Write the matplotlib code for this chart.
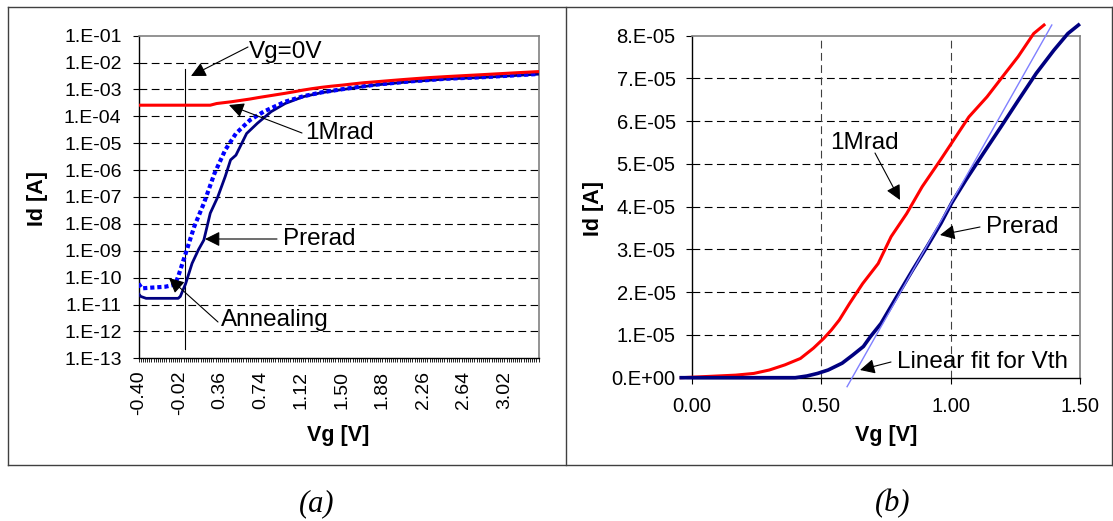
import matplotlib
matplotlib.use("Agg")
import matplotlib.pyplot as plt
from matplotlib.lines import Line2D
from matplotlib.patches import FancyArrowPatch

plt.rcParams['font.family'] = ['Liberation Sans', 'DejaVu Sans']

W, H = 1113, 521

# ---- (a) Id-Vg, log scale ----
vg_1mrad_a = [-0.40, 0.27, 0.33, 0.47, 0.55, 0.64, 0.72, 0.81, 0.90, 0.97, 1.06, 1.14, 1.22,
              1.31, 1.40, 1.51, 1.61, 1.71, 1.83, 1.94, 2.05, 2.17, 2.31, 2.47, 2.63,
              2.81, 2.97, 3.14, 3.33]
id_1mrad_a = [2.6e-4, 2.6e-4, 3.0e-4, 3.5e-4, 3.9e-4, 4.4e-4, 5.0e-4, 5.7e-4, 6.5e-4, 7.2e-4,
              8.3e-4, 9.5e-4, 1.07e-3, 1.2e-3, 1.32e-3, 1.46e-3, 1.62e-3, 1.79e-3, 1.95e-3,
              2.12e-3, 2.3e-3, 2.5e-3, 2.75e-3, 3.0e-3, 3.25e-3, 3.55e-3, 3.85e-3, 4.2e-3, 4.6e-3]

vg_prerad_a = [-0.40, -0.38, -0.33, -0.03, -0.01, 0.04, 0.10, 0.16, 0.21, 0.27, 0.34, 0.41,
               0.46, 0.51, 0.61, 0.71, 0.84, 0.97, 1.14, 1.31, 1.51, 1.81, 2.14, 2.47, 2.81, 3.33]
id_prerad_a = [2.5e-11, 2.0e-11, 1.7e-11, 1.7e-11, 2.0e-11, 6e-11, 3.4e-10, 1.1e-9, 2.5e-9,
               2.5e-8, 1.0e-7, 5.8e-7, 2.4e-6, 3.6e-6, 2.3e-5, 5.5e-5, 1.5e-4, 3.0e-4, 5.4e-4,
               7.6e-4, 1.0e-3, 1.46e-3, 1.95e-3, 2.45e-3, 2.8e-3, 3.7e-3]

vg_anneal_a = [-0.40, -0.37, -0.30, -0.15, -0.06, -0.03, 0.01, 0.06, 0.12, 0.21, 0.31, 0.41,
               0.51, 0.64, 0.77, 0.97, 1.14, 1.31, 1.51, 1.81, 2.14, 2.47, 2.81, 3.33]
id_anneal_a = [6e-11, 4e-11, 4.2e-11, 4.6e-11, 5.5e-11, 1.1e-10, 3.4e-10, 1.4e-9, 7.9e-9,
               5.8e-8, 7.6e-7, 5.6e-6, 2.3e-5, 7.2e-5, 1.5e-4, 3.5e-4, 5.6e-4, 7.8e-4, 1.03e-3,
               1.5e-3, 2.0e-3, 2.5e-3, 2.85e-3, 3.75e-3]

vg_ticks_a = [-0.40, -0.02, 0.36, 0.74, 1.12, 1.50, 1.88, 2.26, 2.64, 3.02]
id_ticks_a = [1e-13, 1e-12, 1e-11, 1e-10, 1e-9, 1e-8, 1e-7, 1e-6, 1e-5, 1e-4, 1e-3, 1e-2, 1e-1]
id_labels_a = ["1.E-13", "1.E-12", "1.E-11", "1.E-10", "1.E-09", "1.E-08", "1.E-07",
               "1.E-06", "1.E-05", "1.E-04", "1.E-03", "1.E-02", "1.E-01"]
vg_zero = 0.03

# ---- (b) Id-Vg, linear scale ----
vg_1mrad_b = [-0.04, 0.17, 0.24, 0.30, 0.36, 0.42, 0.47, 0.51, 0.54, 0.57, 0.61, 0.66, 0.72,
              0.77, 0.83, 0.89, 0.96, 1.02, 1.07, 1.14, 1.21, 1.26, 1.32, 1.36]
id_1mrad_b = [0, 0.06e-5, 0.1e-5, 0.18e-5, 0.3e-5, 0.45e-5, 0.69e-5, 0.92e-5, 1.12e-5, 1.35e-5,
              1.74e-5, 2.2e-5, 2.67e-5, 3.3e-5, 3.84e-5, 4.47e-5, 5.09e-5, 5.64e-5, 6.1e-5,
              6.57e-5, 7.12e-5, 7.51e-5, 8.05e-5, 8.25e-5]

vg_prerad_b = [-0.04, 0.40, 0.445, 0.486, 0.527, 0.581, 0.622, 0.663, 0.69, 0.731, 0.799, 0.853,
               0.908, 0.962, 1.003, 1.058, 1.126, 1.194, 1.262, 1.33, 1.398, 1.452, 1.493]
id_prerad_b = [0, 0, 0.04e-5, 0.1e-5, 0.18e-5, 0.34e-5, 0.53e-5, 0.73e-5, 0.96e-5, 1.27e-5,
               1.97e-5, 2.52e-5, 3.06e-5, 3.61e-5, 4.08e-5, 4.62e-5, 5.25e-5, 5.87e-5, 6.5e-5,
               7.12e-5, 7.66e-5, 8.05e-5, 8.25e-5]

vg_fit_b = [0.60, 1.39]
id_fit_b = [-0.21e-5, 8.25e-5]

vg_ticks_b = [0.0, 0.5, 1.0, 1.5]
vg_labels_b = ["0.00", "0.50", "1.00", "1.50"]
id_ticks_b = [0, 1e-5, 2e-5, 3e-5, 4e-5, 5e-5, 6e-5, 7e-5, 8e-5]
id_labels_b = ["0.E+00", "1.E-05", "2.E-05", "3.E-05", "4.E-05", "5.E-05", "6.E-05",
               "7.E-05", "8.E-05"]


def fx(x):
    return x / W


def fy(y):
    return 1 - y / H


def P(x, y):
    return (fx(x), fy(y))


fig = plt.figure(figsize=(W / 100, H / 100), dpi=100)

axa = fig.add_axes([fx(138.6), fy(358.3), (538.6 - 138.6) / W, (358.3 - 35.7) / H])
axb = fig.add_axes([fx(691.6), fy(377.7), (1080.3 - 691.6) / W, (377.7 - 35.7) / H])

grid_dash = (0, (7, 4))

# panel (a)
axa.set_yscale('log')
axa.set_xlim(-0.40, 3.34)
axa.set_ylim(1e-13, 1e-1)
for t in id_ticks_a[1:-1]:
    axa.axhline(t, color='black', lw=0.8, ls=grid_dash, zorder=1)
axa.plot([vg_zero, vg_zero], [1e-13 * 10 ** 0.36, 1e-1 * 10 ** -1.25], color='black', lw=0.8,
         zorder=2, clip_on=False)
axa.plot(vg_prerad_a, id_prerad_a, color='#000080', lw=2.0, zorder=3)
axa.plot(vg_anneal_a, id_anneal_a, color='#0000ff', lw=3.0, ls=(0, (1.0, 0.7)), zorder=4)
axa.plot(vg_1mrad_a, id_1mrad_a, color='#ff0000', lw=2.2, zorder=5)
axa.set_yticks(id_ticks_a)
axa.set_yticklabels(id_labels_a)
axa.yaxis.set_minor_locator(matplotlib.ticker.NullLocator())
axa.set_xticks(vg_ticks_a)
axa.set_xticklabels(["%.2f" % v for v in vg_ticks_a], rotation=90)
axa.xaxis.set_minor_locator(matplotlib.ticker.MultipleLocator(0.02))
axa.tick_params(axis='y', direction='out', length=4.3, width=0.8, labelsize=14, pad=8)
axa.tick_params(axis='x', which='both', direction='out', length=3, width=0.6, labelsize=14, pad=6)

# panel (b)
axb.set_xlim(0, 1.5)
axb.set_ylim(0, 8e-5)
for t in id_ticks_b[1:-1]:
    axb.axhline(t, color='black', lw=0.8, ls=grid_dash, zorder=1)
for v in [0.5, 1.0]:
    axb.axvline(v, color='#404040', lw=0.8, ls=grid_dash, zorder=1)
axb.plot(vg_1mrad_b, id_1mrad_b, color='#ff0000', lw=2.2, zorder=3, clip_on=False)
axb.plot(vg_prerad_b, id_prerad_b, color='#000080', lw=2.6, zorder=4, clip_on=False)
axb.plot(vg_fit_b, id_fit_b, color='#8080ff', lw=1.0, zorder=5, clip_on=False)
axb.set_xticks(vg_ticks_b)
axb.set_xticklabels(vg_labels_b)
axb.set_yticks(id_ticks_b)
axb.set_yticklabels(id_labels_b)
axb.tick_params(axis='y', direction='out', length=4.5, width=0.8, labelsize=14.5, pad=7)
axb.tick_params(axis='x', direction='out', length=4, width=0.8, labelsize=14.5, pad=10)

for ax in (axa, axb):
    ax.set_facecolor('white')
    ax.spines['left'].set_color('black')
    ax.spines['bottom'].set_color('black')
    ax.spines['left'].set_linewidth(1.0)
    ax.spines['bottom'].set_linewidth(1.0)
    ax.spines['top'].set_color('#808080')
    ax.spines['right'].set_color('#808080')
    ax.spines['top'].set_linewidth(1.2)
    ax.spines['right'].set_linewidth(1.2)

# axis titles
fig.text(fx(38), fy(198), "Id [A]", rotation=90, fontsize=15.5, fontweight='bold',
         ha='center', va='center')
fig.text(fx(594), fy(208), "Id [A]", rotation=90, fontsize=15.5, fontweight='bold',
         ha='center', va='center')
fig.text(fx(338), fy(435), "Vg [V]", fontsize=15.5, fontweight='bold', ha='center', va='center')
fig.text(fx(886), fy(435), "Vg [V]", fontsize=15.5, fontweight='bold', ha='center', va='center')

# annotations: (label, text left, baseline, arrow tail, arrow head)
notes = [
    ("Vg=0V", 249, 58.3, (248, 47), (191, 76)),
    ("1Mrad", 305, 139.3, (302, 133), (229, 105)),
    ("Prerad", 283, 245, (277, 239), (205, 239)),
    ("Annealing", 221, 326, (218, 322), (169, 278)),
    ("1Mrad", 830, 149, (875, 153), (900, 200)),
    ("Prerad", 986, 233.3, (980, 227), (940, 235)),
    ("Linear fit for Vth", 897, 368.3, (891, 362), (860, 370)),
]
for label, tx, ty, tail, head in notes:
    fig.text(fx(tx), fy(ty), label, fontsize=17.5, ha='left', va='baseline', zorder=10)
    fig.add_artist(FancyArrowPatch(P(*tail), P(*head), transform=fig.transFigure,
                                   arrowstyle='-|>,head_length=0.6,head_width=0.3',
                                   color='black', lw=0.8, shrinkA=0, shrinkB=0,
                                   mutation_scale=15, zorder=10))

# panel frames
frame = dict(color='#404040', lw=1.0, transform=fig.transFigure)
for (x0, y0, x1, y1) in [(7.5, 7, 1112, 7), (7.5, 465, 1112, 465), (7.5, 7, 7.5, 465),
                         (565.5, 7, 565.5, 465), (1112, 7, 1112, 465)]:
    fig.add_artist(Line2D([fx(x0), fx(x1)], [fy(y0), fy(y1)], **frame))

# captions
fig.text(fx(317), fy(504), "(a)", fontsize=22, family='Liberation Serif', style='italic',
         ha='center', va='center')
fig.text(fx(893), fy(504), "(b)", fontsize=22, family='Liberation Serif', style='italic',
         ha='center', va='center')

fig.savefig("out.png", dpi=100, facecolor='white')
